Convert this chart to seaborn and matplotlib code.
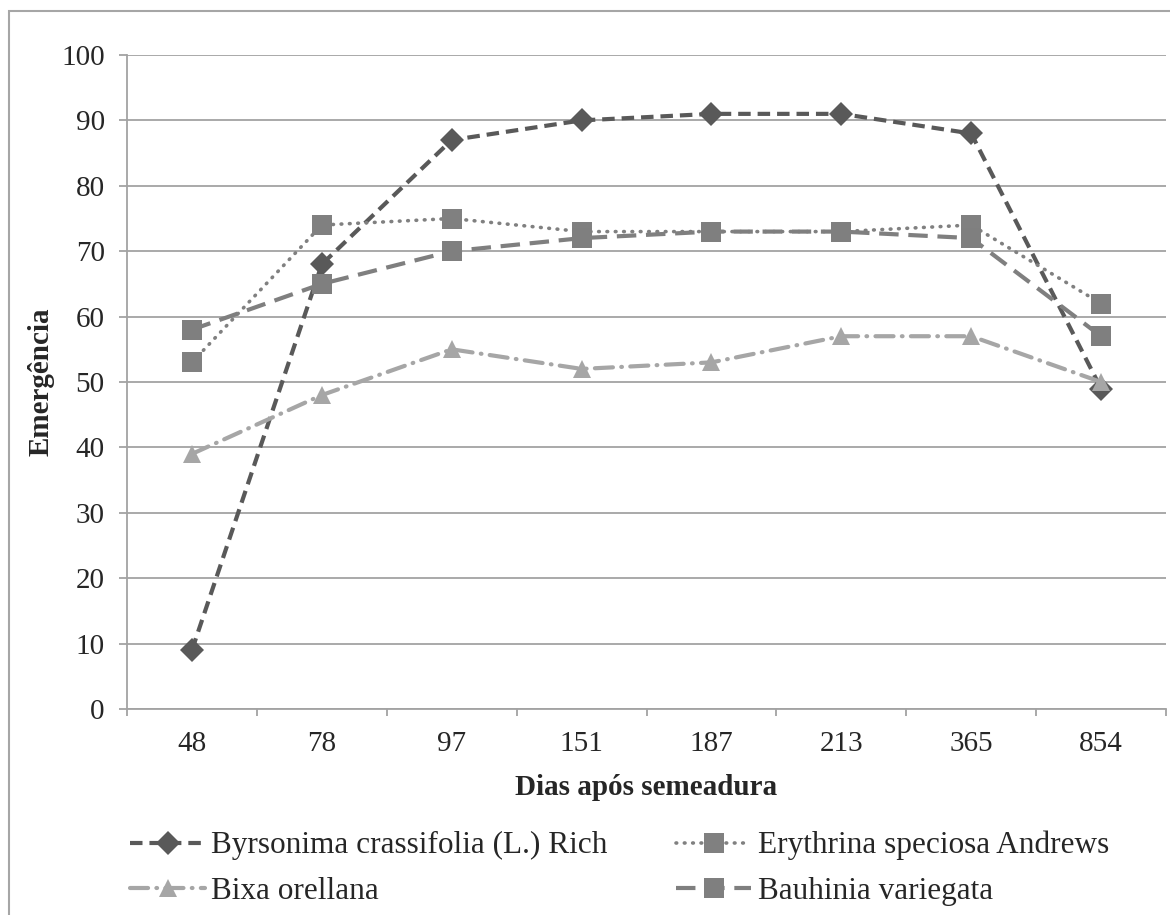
import matplotlib
matplotlib.use("Agg")
import matplotlib.pyplot as plt
import seaborn as sns
import pandas as pd
from matplotlib.patches import Rectangle

days = ["48", "78", "97", "151", "187", "213", "365", "854"]
byrsonima = [9, 68, 87, 90, 91, 91, 88, 49]
erythrina = [53, 74, 75, 73, 73, 73, 74, 62]
bixa = [39, 48, 55, 52, 53, 57, 57, 50]
bauhinia = [58, 65, 70, 72, 73, 73, 72, 57]
series_names = ["Byrsonima crassifolia (L.) Rich", "Erythrina speciosa Andrews",
                "Bixa orellana", "Bauhinia variegata"]
yticks = list(range(0, 101, 10))

sns.set_theme(style="white")
plt.rcParams["font.family"] = ["Liberation Serif", "DejaVu Serif"]
plt.rcParams["lines.scale_dashes"] = False

fig = plt.figure(figsize=(11.7, 9.15), dpi=100)
ax = fig.add_axes([127/1170, 1-709/915, (1166-127)/1170, (709-55)/915])

styles = [
    dict(color="#595959", ls=(0, (9, 5)), marker="D", ms=12, lw=3.0),
    dict(color="#808080", ls=(0, (0.5, 5.5)), marker="s", ms=14.5, lw=2.6, dash_capstyle="round"),
    dict(color="#A6A6A6", ls=(0, (13, 6, 0.5, 6)), marker="^", ms=13.5, lw=3.0, dash_capstyle="round"),
    dict(color="#7F7F7F", ls=(0, (14, 7)), marker="s", ms=15, lw=3.0),
]
data = [byrsonima, erythrina, bixa, bauhinia]
for name, vals, st in zip(series_names, data, styles):
    df = pd.DataFrame({"Dias": days, "Emergência": vals})
    sns.lineplot(data=df, x="Dias", y="Emergência", ax=ax, sort=False,
                 color=st["color"], linestyle=st["ls"], marker=st["marker"],
                 markersize=st["ms"], linewidth=st["lw"], markeredgewidth=0,
                 dash_capstyle=st.get("dash_capstyle", "butt"), label=name)

ax.set_xlim(-0.5, len(days) - 0.5)
ax.set_ylim(0, 100)
ax.set_yticks(yticks)
ax.set_yticklabels([str(v) for v in yticks])
ax.set_xticks(range(len(days)))
ax.set_xticklabels(days)
ax.set_xticks([i - 0.5 for i in range(len(days) + 1)], minor=True)
ax.grid(axis="y", color="#A3A3A3", lw=1.3)
ax.grid(axis="x", visible=False)
ax.set_axisbelow(True)
for s in ["top", "right"]:
    ax.spines[s].set_visible(False)
for s in ["left", "bottom"]:
    ax.spines[s].set_color("#A3A3A3")
    ax.spines[s].set_linewidth(1.3)
ax.tick_params(axis="y", which="major", length=6, width=1.3, color="#A3A3A3",
               labelsize=21, pad=10, left=True, direction="out")
ax.tick_params(axis="x", which="major", length=0, labelsize=21, pad=16)
ax.tick_params(axis="x", which="minor", length=5, width=1.3, color="#A3A3A3",
               bottom=True, direction="out")
ax.set_xlabel("Dias após semeadura", fontsize=21, fontweight="bold", labelpad=12)
ax.set_ylabel("Emergência", fontsize=21, fontweight="bold", labelpad=5)

handles, labels = ax.get_legend_handles_labels()
order = [0, 2, 1, 3]
ax.legend([handles[i] for i in order], [labels[i] for i in order], ncol=2,
          frameon=False, fontsize=22.5,
          loc="upper left", bbox_to_anchor=(130/1170, 1-831/915),
          bbox_transform=fig.transFigure, handlelength=2.4, handletextpad=0.2,
          columnspacing=2.2, labelspacing=0.53, borderaxespad=0, borderpad=0)

fig.patches.append(Rectangle((9/1170, -0.1), 1.2, 1 - 11/915 + 0.1,
                             transform=fig.transFigure, fill=False,
                             edgecolor="#A6A6A6", lw=1.5))
fig.savefig("out.png", dpi=100)
